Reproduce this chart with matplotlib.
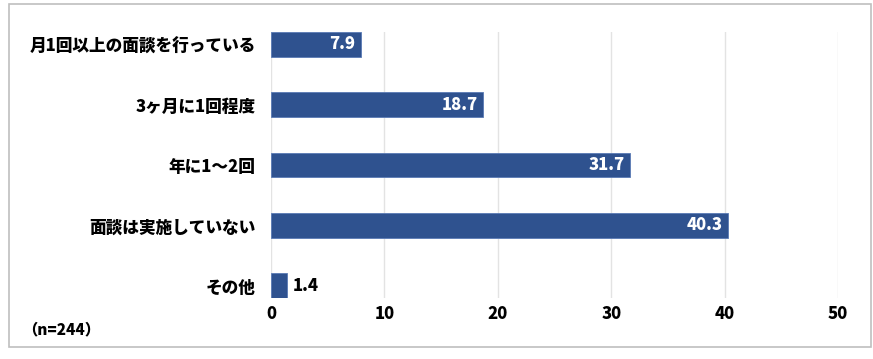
import matplotlib
matplotlib.use("Agg")
import matplotlib.pyplot as plt
from matplotlib.patches import Rectangle

plt.rcParams['font.family'] = ['Noto Sans CJK JP', 'DejaVu Sans']

categories = ["月1回以上の面談を行っている", "3ヶ月に1回程度", "年に1～2回", "面談は実施していない", "その他"]
values = [7.9, 18.7, 31.7, 40.3, 1.4]
xticks = [0, 10, 20, 30, 40, 50]
note = "（n=244）"

W, H = 873, 359
fig = plt.figure(figsize=(W/100, H/100), dpi=100)
fig.patches.append(Rectangle((9/W, 1-347/H), (871-9)/W, (347-4)/H, transform=fig.transFigure,
                             fill=False, edgecolor='#BFBFBF', linewidth=1.2))

ax = fig.add_axes([271/W, 1-298/H, (838-271)/W, (298-32)/H])
bar_color = '#2F528F'
bh = 0.41
y = list(range(len(categories)))
ax.barh(y, values, height=bh, color=bar_color, edgecolor='#5A7AB5', linewidth=0.6, zorder=3)
ax.set_ylim(len(categories)-1+bh/2, -bh/2)
ax.set_xlim(0, 50)
ax.set_xticks(xticks)
ax.set_xticklabels([str(t) for t in xticks], fontsize=12, fontweight='heavy')
ax.set_yticks(y)
ax.set_yticklabels(categories, fontsize=12, fontweight='heavy')
ax.tick_params(axis='both', length=0)
ax.tick_params(axis='y', pad=11)
ax.tick_params(axis='x', pad=5)
for s in ax.spines.values():
    s.set_visible(False)
ax.grid(axis='x', color='#E3E3E3', linewidth=1, zorder=0)
ax.set_axisbelow(True)

for yi, v in zip(y, values):
    if v > 5:
        ax.text(v - 0.5, yi, f"{v:.1f}", ha='right', va='center', color='white',
                fontsize=12, fontweight='heavy', zorder=4)
    else:
        ax.text(v + 0.5, yi, f"{v:.1f}", ha='left', va='center', color='black',
                fontsize=12, fontweight='heavy', zorder=4)

fig.text(22/W, 1-330/H, note, ha='left', va='center', fontsize=11, fontweight='heavy')

fig.savefig("out.png", dpi=100)
